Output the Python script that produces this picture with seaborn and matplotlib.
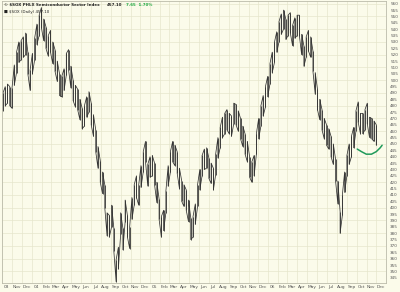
import numpy as np
import pandas as pd
import matplotlib
matplotlib.use("Agg")
import matplotlib.pyplot as plt
import seaborn as sns

# Weekly high / low of the $SOX index
week_start = "2003-10-03"
weekly_high = [490, 495, 497, 495, 494, 512, 522, 530, 531, 534, 537, 522, 508, 521, 533, 544, 551, 557, 548, 542,
               535, 539, 530, 524, 515, 505, 503, 509, 521, 524, 511, 500, 496, 493, 485, 478, 480, 487, 491, 482,
               473, 461, 448, 437, 428, 418, 396, 394, 402, 384, 359, 369, 396, 384, 406, 394, 385, 408, 418, 425,
               418, 433, 444, 452, 434, 440, 441, 435, 420, 407, 393, 398, 413, 433, 444, 452, 449, 444, 431, 421,
               418, 414, 406, 392, 393, 403, 418, 430, 441, 446, 447, 439, 435, 431, 442, 455, 463, 471, 474, 477,
               474, 472, 482, 481, 476, 470, 464, 458, 452, 440, 436, 441, 458, 470, 480, 488, 495, 503, 513, 522,
               530, 538, 546, 552, 555, 548, 551, 553, 543, 549, 551, 551, 536, 527, 534, 539, 534, 523, 506, 493,
               485, 477, 470, 465, 462, 456, 450, 438, 421, 397, 410, 428, 441, 450, 456, 463, 476, 483, 474, 474,
               477, 482, 471, 470, 468, 465]
weekly_low = [476, 480, 482, 480, 478, 496, 506, 514, 516, 518, 520, 505, 492, 505, 516, 528, 535, 541, 531, 525,
              519, 522, 513, 507, 499, 488, 487, 492, 504, 508, 494, 484, 479, 477, 469, 462, 464, 471, 475, 465,
              456, 444, 431, 420, 411, 400, 378, 377, 385, 366, 342, 352, 379, 367, 389, 377, 368, 391, 402, 408,
              402, 416, 428, 436, 417, 424, 425, 418, 404, 391, 377, 382, 396, 417, 428, 436, 433, 427, 415, 405,
              401, 398, 389, 375, 377, 387, 401, 414, 425, 430, 431, 423, 419, 414, 426, 439, 447, 455, 458, 461,
              458, 456, 466, 465, 460, 454, 448, 442, 436, 424, 420, 425, 442, 454, 464, 472, 479, 487, 497, 506,
              514, 522, 530, 536, 540, 532, 535, 537, 527, 533, 535, 535, 520, 511, 518, 523, 518, 507, 489, 477,
              469, 461, 454, 449, 446, 440, 434, 421, 403, 380, 394, 412, 425, 434, 440, 447, 460, 467, 458, 458,
              461, 466, 455, 454, 452, 449]

# hand-drawn green annotation arc
arc_dates = ["2006-10-03", "2006-10-16", "2006-10-31", "2006-11-16", "2006-12-01", "2006-12-13", "2006-12-19"]
arc_values = [446, 444, 442, 442, 444, 447, 449]

title_main = "$SOX PHLX Semiconductor Sector Index"
title_last = "457.10"
title_chg = "7.65  1.70%"
title_sub = "■ $SOX (Daily) 457.10"

y_min, y_max = 341, 562

dates = pd.date_range(week_start, periods=len(weekly_high), freq="7D")

# zig-zag path through the weekly ranges
zz_x, zz_y = [], []
for k, (d, h, l) in enumerate(zip(dates, weekly_high, weekly_low)):
    zz_x += [d, d]
    zz_y += [l, h] if k % 2 == 0 else [h, l]
zz = pd.DataFrame({"date": zz_x, "value": zz_y})
arc = pd.DataFrame({"date": pd.to_datetime(arc_dates), "value": arc_values})

bg = "#FBFBEA"
grid_c = "#E6E6CC"
sns.set_theme(style="white")
plt.rcParams["font.family"] = ["DejaVu Sans"]

fig = plt.figure(figsize=(4.0, 2.92), dpi=100, facecolor=bg)
ax = fig.add_axes([0.005, 0.031, 0.96, 0.965])
ax.set_facecolor(bg)

# horizontal grid every 10 points
for g in np.arange(350, 561, 10):
    ax.axhline(g, color=grid_c, lw=0.5, zorder=0)

sns.lineplot(data=zz, x="date", y="value", sort=False, estimator=None,
             color="#333333", lw=0.55, ax=ax)
ax.vlines(dates, weekly_low, weekly_high, color="#333333", lw=0.6)
sns.lineplot(data=arc, x="date", y="value", sort=False, estimator=None,
             color="#1f9a5a", lw=1.1, ax=ax)

ax.set_xlim(pd.Timestamp("2003-09-30"), pd.Timestamp("2006-12-31"))
ax.set_ylim(y_min, y_max)

# month grid and labels
month_starts = pd.date_range("2003-10-01", "2006-12-01", freq="MS")
ax.set_xticks(month_starts)
ax.set_xticklabels([])
mids = month_starts + pd.Timedelta(days=14)
labels = []
for i, m in enumerate(month_starts):
    if i == 0:
        labels.append("03")
    elif m.month == 1:
        labels.append(m.strftime("%y"))
    else:
        labels.append(m.strftime("%b"))
ax.set_xticks(mids, minor=True)
ax.set_xticklabels(labels, minor=True, fontsize=3.2, color="#555555")
ax.tick_params(axis="x", which="both", length=0, pad=1.5)
ax.xaxis.grid(True, which="major", color=grid_c, lw=0.5)

# y labels every 5
ax.yaxis.tick_right()
yt_lab = np.arange(345, 561, 5)
ax.set_yticks(yt_lab)
ax.set_yticklabels([str(v) for v in yt_lab], fontsize=3.0, color="#555555")
ax.tick_params(axis="y", which="both", length=0, pad=3)
ax.yaxis.grid(False)

ax.set_xlabel("")
ax.set_ylabel("")
for s in ax.spines.values():
    s.set_color("#BBBBAA")
    s.set_linewidth(0.6)

ax.text(0.004, 0.993, "© " + title_main, transform=ax.transAxes,
        fontsize=2.9, va="top", ha="left", color="#222222", fontweight="bold")
ax.text(0.272, 0.993, title_last, transform=ax.transAxes,
        fontsize=2.9, va="top", ha="left", color="#222222", fontweight="bold")
ax.text(0.322, 0.993, title_chg, transform=ax.transAxes,
        fontsize=2.9, va="top", ha="left", color="#22aa44", fontweight="bold")
ax.text(0.004, 0.968, title_sub, transform=ax.transAxes,
        fontsize=2.9, va="top", ha="left", color="#222222")

fig.savefig("out.png", dpi=100, facecolor=bg)
